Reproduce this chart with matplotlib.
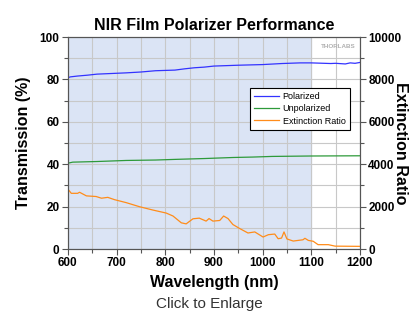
import numpy as np
import matplotlib.pyplot as plt
from matplotlib.ticker import MultipleLocator

plt.rcParams['font.family'] = ['Liberation Sans', 'DejaVu Sans']

# Polarized transmission (%)
pol_wl = [600, 605, 620, 640, 660, 690, 720, 750, 780, 820, 840, 860, 880, 900,
          950, 1000, 1040, 1077, 1100, 1140, 1150, 1170, 1180, 1190, 1200]
pol_t = [80.8, 81.2, 81.6, 82.0, 82.5, 82.8, 83.1, 83.5, 84.1, 84.4, 85.0, 85.5,
         85.8, 86.3, 86.7, 87.0, 87.5, 87.8, 87.8, 87.5, 87.6, 87.3, 87.8, 87.6, 88.0]

# Unpolarized transmission (%)
unp_wl = [600, 610, 660, 720, 780, 820, 880, 940, 980, 1020, 1100, 1200]
unp_t = [40.5, 41.0, 41.3, 41.8, 42.0, 42.3, 42.7, 43.2, 43.4, 43.7, 43.9, 44.0]

# Extinction ratio
ext_wl = [600, 607, 620, 624, 638, 658, 669, 682, 696, 720, 747, 775, 802, 816,
          833, 843, 857, 870, 884, 890, 898, 912, 920, 929, 939, 953, 970, 984,
          1001, 1012, 1025, 1032, 1039, 1044, 1050, 1063, 1083, 1087, 1094, 1104,
          1114, 1135, 1149, 1200]
ext_r = [2830, 2630, 2630, 2680, 2510, 2480, 2400, 2440, 2330, 2190, 2000, 1840,
         1700, 1560, 1240, 1190, 1430, 1460, 1320, 1440, 1320, 1350, 1560, 1440,
         1160, 970, 760, 810, 570, 680, 710, 490, 520, 810, 480, 380, 440, 510,
         410, 370, 210, 210, 140, 130]

blue = '#3333ff'
green = '#2e9a3a'
orange = '#ff8c1a'

fig = plt.figure(figsize=(4.19, 3.11), dpi=100)
ax = fig.add_axes([0.162, 0.199, 0.697, 0.682])
ax2 = ax.twinx()

ax.axvspan(600, 1100, color='#dbe4f5', zorder=0)
ax.plot(pol_wl, pol_t, color=blue, lw=0.9, label='Polarized', zorder=3)
ax.plot(unp_wl, unp_t, color=green, lw=0.9, label='Unpolarized', zorder=3)
ax2.plot(ext_wl, ext_r, color=orange, lw=0.9, label='Extinction Ratio')
ax.plot([], [], color=orange, lw=0.9, label='Extinction Ratio')

ax.set_xlim(600, 1200)
ax.set_ylim(0, 100)
ax2.set_ylim(0, 10000)
ax.xaxis.set_major_locator(MultipleLocator(100))
ax.xaxis.set_minor_locator(MultipleLocator(50))
ax.yaxis.set_major_locator(MultipleLocator(20))
ax.yaxis.set_minor_locator(MultipleLocator(10))
ax2.yaxis.set_major_locator(MultipleLocator(2000))
ax2.yaxis.set_minor_locator(MultipleLocator(1000))
ax.grid(True, which='both', color='#c8c8c8', lw=0.8, zorder=1)
ax.set_axisbelow(True)

for a in (ax, ax2):
    a.tick_params(which='both', direction='out', labelsize=8.5, width=0.8,
                  color='#555555', pad=2)
    a.tick_params(which='major', length=4)
    a.tick_params(which='minor', length=3)
    for lab in a.get_xticklabels() + a.get_yticklabels():
        lab.set_fontweight('bold')
    for s in a.spines.values():
        s.set_color('#555555')

ax.set_xlabel('Wavelength (nm)', fontsize=11.5, fontweight='bold', labelpad=4)
ax.set_ylabel('Transmission (%)', fontsize=11.5, fontweight='bold', labelpad=6)
ax2.set_ylabel('Extinction Ratio', fontsize=11.5, fontweight='bold', rotation=270)
ax2.yaxis.set_label_coords(1.165, 0.5)
ax.set_title('NIR Film Polarizer Performance', fontsize=11.5, fontweight='bold', pad=5)

ax2.set_zorder(ax.get_zorder() + 1)
ax2.patch.set_visible(False)
leg = ax2.legend(*ax.get_legend_handles_labels(), loc='upper right',
                 bbox_to_anchor=(0.98, 0.78), fontsize=6.5, frameon=True,
                 fancybox=False, edgecolor='black', framealpha=1,
                 handlelength=2.8, handletextpad=0.4, borderpad=0.45,
                 labelspacing=0.35)
leg.get_frame().set_linewidth(0.8)

ax.text(0.985, 0.965, 'THORLABS', transform=ax.transAxes, ha='right', va='top',
        fontsize=4.5, color='#b0b0b0', fontweight='bold')
fig.text(0.5, 0.0, 'Click to Enlarge', ha='center', va='bottom', fontsize=11,
         color='#333333')

fig.savefig('out.png', dpi=100)
